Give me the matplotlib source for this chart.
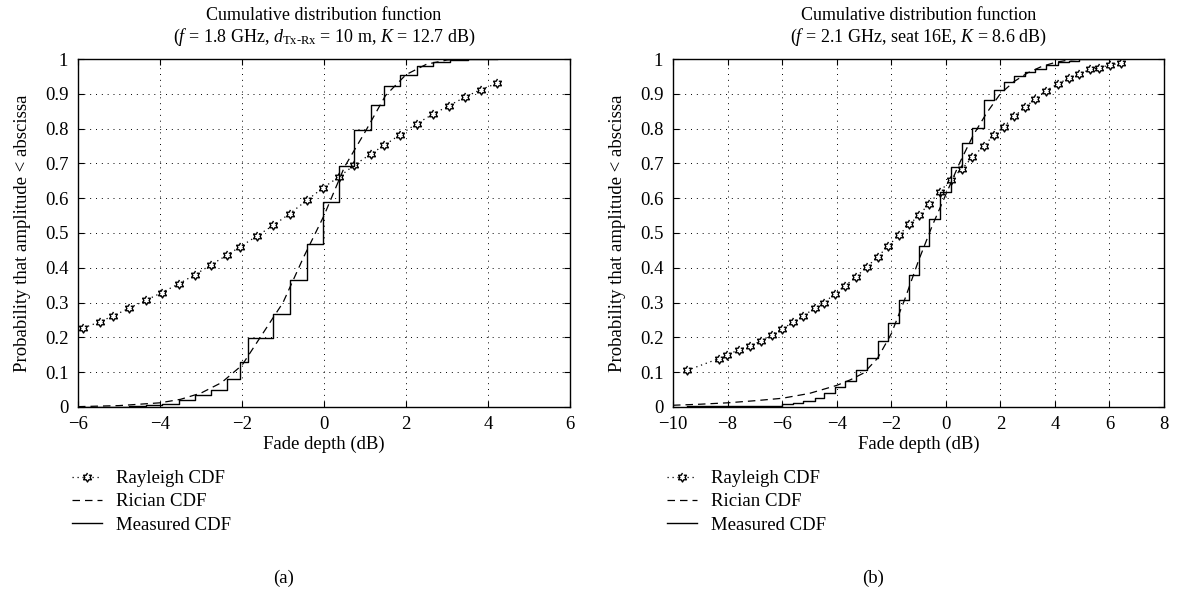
# 两种场景下衰落深度的累积分布函数对比图

import numpy as np
import matplotlib.pyplot as plt

plt.rcParams['font.family'] = ['Liberation Serif', 'DejaVu Serif']
plt.rcParams['mathtext.fontset'] = 'custom'
plt.rcParams['mathtext.rm'] = 'Liberation Serif'
plt.rcParams['mathtext.it'] = 'Liberation Serif:italic'
plt.rcParams['font.size'] = 13.5

# (a) f = 1.8 GHz
ray_x_a = [-5.87, -5.46, -5.14, -4.75, -4.34, -3.95, -3.54, -3.15, -2.76, -2.36, -2.05, -1.64, -1.24, -0.83,
           -0.42, -0.02, 0.36, 0.74, 1.15, 1.47, 1.86, 2.26, 2.65, 3.05, 3.43, 3.82, 4.22]
ray_y_a = [0.227, 0.245, 0.262, 0.284, 0.307, 0.329, 0.354, 0.380, 0.408, 0.437, 0.460, 0.491, 0.522, 0.556,
           0.594, 0.630, 0.661, 0.695, 0.728, 0.752, 0.783, 0.814, 0.841, 0.866, 0.890, 0.912, 0.930]
ric_x_a = [-6, -5, -4, -3.5, -3, -2.5, -2, -1.5, -1, -0.5, 0, 0.5, 1, 1.5, 2, 2.5, 3, 3.5, 4]
ric_y_a = [0.001, 0.004, 0.012, 0.022, 0.040, 0.070, 0.120, 0.210, 0.300, 0.430, 0.550, 0.690, 0.790, 0.895,
           0.955, 0.985, 0.997, 1.0, 1.0]
mea_x_a = [-6.0, -4.75, -4.34, -3.95, -3.54, -3.15, -2.76, -2.36, -2.04, -1.85, -1.24, -0.83, -0.42, -0.02,
           0.36, 0.74, 1.15, 1.47, 1.86, 2.26, 2.65, 3.07, 3.50, 4.22]
mea_y_a = [0.0, 0.003, 0.006, 0.010, 0.020, 0.035, 0.050, 0.080, 0.128, 0.198, 0.267, 0.365, 0.468, 0.588,
           0.693, 0.797, 0.868, 0.922, 0.954, 0.979, 0.990, 0.997, 1.0, 1.0]

# (b) f = 2.1 GHz
ray_x_b = [-9.49, -8.32, -8.01, -7.59, -7.17, -6.77, -6.38, -6.00, -5.61, -5.22, -4.80, -4.46, -4.07, -3.68,
           -3.29, -2.90, -2.50, -2.12, -1.72, -1.33, -0.98, -0.62, -0.21, 0.18, 0.59, 0.98, 1.39, 1.77, 2.14,
           2.51, 2.90, 3.28, 3.67, 4.10, 4.51, 4.90, 5.29, 5.63, 6.03, 6.43]
ray_y_b = [0.105, 0.139, 0.150, 0.164, 0.176, 0.190, 0.208, 0.224, 0.243, 0.262, 0.284, 0.300, 0.325, 0.349,
           0.374, 0.402, 0.431, 0.462, 0.494, 0.525, 0.551, 0.584, 0.619, 0.653, 0.684, 0.718, 0.750, 0.782,
           0.806, 0.835, 0.861, 0.885, 0.909, 0.928, 0.945, 0.957, 0.970, 0.975, 0.983, 0.988]
ric_x_b = [-10, -9, -8, -7, -6, -5, -4, -3.5, -3, -2.5, -2, -1.5, -1, -0.5, 0, 0.5, 1, 1.5, 2, 2.5, 3, 3.5,
           4, 4.5, 5, 6]
ric_y_b = [0.005, 0.008, 0.012, 0.018, 0.025, 0.039, 0.062, 0.078, 0.098, 0.140, 0.210, 0.310, 0.420, 0.520,
           0.610, 0.700, 0.780, 0.845, 0.900, 0.935, 0.960, 0.978, 0.990, 0.997, 1.0, 1.0]
mea_x_b = [-9.49, -6.00, -5.61, -5.22, -4.80, -4.46, -4.07, -3.68, -3.29, -2.90, -2.50, -2.12, -1.72, -1.33,
           -0.98, -0.62, -0.21, 0.18, 0.59, 0.98, 1.39, 1.77, 2.14, 2.51, 2.90, 3.28, 3.67, 4.10, 4.51, 4.90,
           6.03]
mea_y_b = [0.002, 0.008, 0.012, 0.018, 0.027, 0.040, 0.057, 0.074, 0.105, 0.141, 0.190, 0.240, 0.307, 0.380,
           0.462, 0.540, 0.617, 0.691, 0.758, 0.801, 0.882, 0.910, 0.935, 0.950, 0.962, 0.972, 0.982, 0.990,
           0.995, 1.0, 1.0]

titles = ['Cumulative distribution function\n'
          '($f$ = 1.8 GHz, $d_{\\mathrm{Tx}\\text{-}\\mathrm{Rx}}$ = 10 m, $K$ = 12.7 dB)',
          'Cumulative distribution function\n($f$ = 2.1 GHz, seat 16E, $K$ = 8.6 dB)']
xlims = [(-6, 6), (-10, 8)]
panel_names = ['(a)', '(b)']

# 六角星标记
ang = np.pi / 2 + np.arange(12) * np.pi / 6
rad = np.where(np.arange(12) % 2 == 0, 1.0, 1 / np.sqrt(3))
hexagram = list(zip(rad * np.cos(ang), rad * np.sin(ang)))

fig = plt.figure(figsize=(11.78, 6.07), dpi=100)
ax1 = fig.add_axes([0.0662, 0.3295, 0.4177, 0.5733])
ax2 = fig.add_axes([0.5713, 0.3295, 0.4168, 0.5733])

datasets = [(ray_x_a, ray_y_a, ric_x_a, ric_y_a, mea_x_a, mea_y_a),
            (ray_x_b, ray_y_b, ric_x_b, ric_y_b, mea_x_b, mea_y_b)]

for i, ax in enumerate([ax1, ax2]):
    rx, ry, cx, cy, mx, my = datasets[i]
    ax.plot(rx, ry, linestyle=(0, (1, 3)), color='k', lw=0.9, marker=hexagram, ms=6.5,
            mfc='white', mec='k', mew=1.0, label='Rayleigh CDF')
    ax.plot(cx, cy, linestyle=(0, (6, 4)), color='k', lw=0.9, label='Rician CDF')
    ax.step(mx, my, where='post', color='k', lw=1.0, label='Measured CDF')

    ax.set_xlim(*xlims[i])
    ax.set_ylim(0, 1)
    ax.set_xticks(np.arange(xlims[i][0], xlims[i][1] + 1, 2))
    ax.set_yticks(np.arange(0, 1.01, 0.1))
    ax.set_yticklabels(['0', '0.1', '0.2', '0.3', '0.4', '0.5', '0.6', '0.7', '0.8', '0.9', '1'])
    ax.tick_params(direction='in', top=True, right=True, length=4, labelsize=13.5)
    ax.tick_params(axis='x', pad=6.5)
    ax.tick_params(axis='y', pad=7)
    ax.grid(True, color='k', linestyle=(0, (1, 5)), lw=0.7)
    for s in ax.spines.values():
        s.set_linewidth(1.0)

    ax.set_title(titles[i], fontsize=13, pad=12, linespacing=1.2)
    ax.set_xlabel('Fade depth (dB)', fontsize=13.5, labelpad=2)
    ax.set_ylabel('Probability that amplitude < abscissa', fontsize=13.5, labelpad=10)

    ax.legend(loc='upper left', bbox_to_anchor=(-0.028, -0.16), frameon=False, handlelength=1.6,
              handletextpad=0.75, labelspacing=0.32, fontsize=13.5, borderaxespad=0)

fig.text(0.2403, 0.048, panel_names[0], ha='center', va='center', fontsize=13.5)
fig.text(0.7411, 0.048, panel_names[1], ha='center', va='center', fontsize=13.5)

fig.savefig('out.png', dpi=100)
